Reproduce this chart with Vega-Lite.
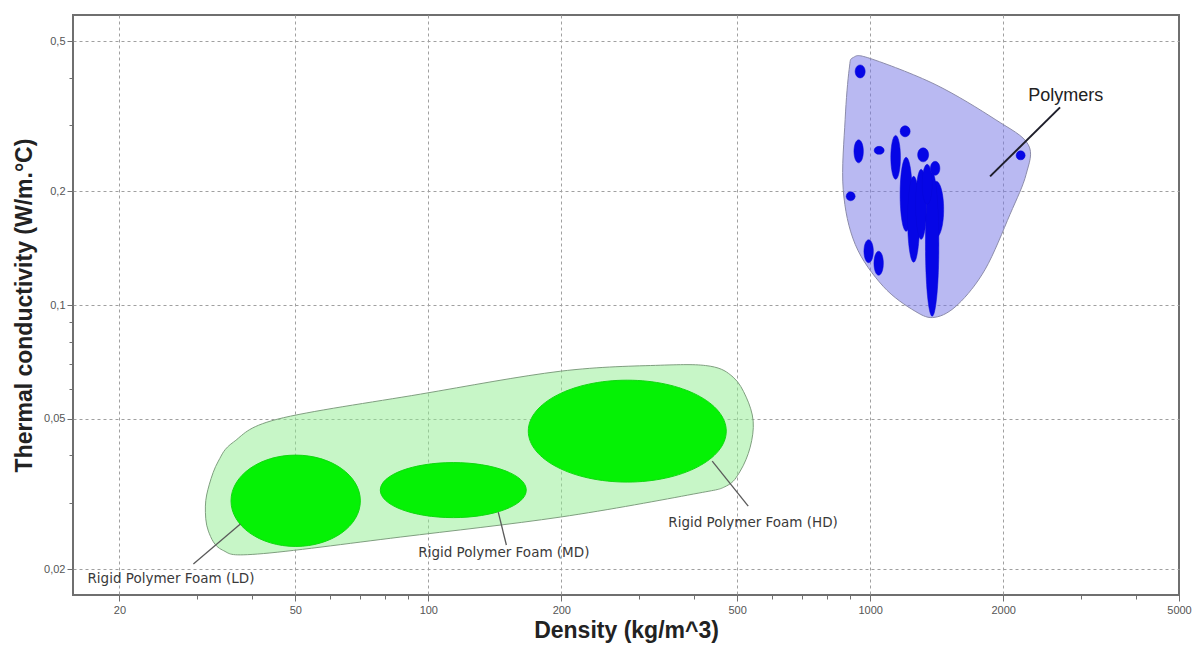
{
  "$schema": "https://vega.github.io/schema/vega-lite/v6.json",
  "width": 1106,
  "height": 580,
  "autosize": {"type": "none"},
  "padding": {"left": 73, "top": 15, "right": 20, "bottom": 51},
  "background": "#ffffff",
  "config": {
    "view": {"stroke": "#6f6f6f", "strokeWidth": 2},
    "axis": {
      "labelFont": "Liberation Sans",
      "titleFont": "Liberation Sans",
      "labelColor": "#555555",
      "labelFontSize": 11,
      "titleFontSize": 23,
      "titleFontWeight": "bold",
      "titleColor": "#222222",
      "gridColor": "#a0a0a0",
      "gridDash": [3, 3],
      "gridWidth": 1,
      "tickColor": "#6f6f6f",
      "domain": false
    }
  },
  "datasets": {
    "shapes": [
      {"id": "env", "kind": "foamEnv", "i": 0, "d": 36.22, "k": 0.04335},
      {"id": "env", "kind": "foamEnv", "i": 1, "d": 45.53, "k": 0.04985},
      {"id": "env", "kind": "foamEnv", "i": 2, "d": 95.92, "k": 0.05808},
      {"id": "env", "kind": "foamEnv", "i": 3, "d": 198.9, "k": 0.06679},
      {"id": "env", "kind": "foamEnv", "i": 4, "d": 334.9, "k": 0.06928},
      {"id": "env", "kind": "foamEnv", "i": 5, "d": 434.5, "k": 0.06887},
      {"id": "env", "kind": "foamEnv", "i": 6, "d": 489.8, "k": 0.0644},
      {"id": "env", "kind": "foamEnv", "i": 7, "d": 524.2, "k": 0.05702},
      {"id": "env", "kind": "foamEnv", "i": 8, "d": 543.6, "k": 0.04925},
      {"id": "env", "kind": "foamEnv", "i": 9, "d": 535.2, "k": 0.04205},
      {"id": "env", "kind": "foamEnv", "i": 10, "d": 508.1, "k": 0.03634},
      {"id": "env", "kind": "foamEnv", "i": 11, "d": 472.4, "k": 0.03316},
      {"id": "env", "kind": "foamEnv", "i": 12, "d": 397.7, "k": 0.03158},
      {"id": "env", "kind": "foamEnv", "i": 13, "d": 198.9, "k": 0.02745},
      {"id": "env", "kind": "foamEnv", "i": 14, "d": 86.42, "k": 0.0243},
      {"id": "env", "kind": "foamEnv", "i": 15, "d": 41.03, "k": 0.02191},
      {"id": "env", "kind": "foamEnv", "i": 16, "d": 34.2, "k": 0.02245},
      {"id": "env", "kind": "foamEnv", "i": 17, "d": 31.79, "k": 0.0252},
      {"id": "env", "kind": "foamEnv", "i": 18, "d": 31.3, "k": 0.02935},
      {"id": "env", "kind": "foamEnv", "i": 19, "d": 31.96, "k": 0.03356},
      {"id": "env", "kind": "foamEnv", "i": 20, "d": 33.49, "k": 0.03862},

      {"id": "LD", "kind": "foam", "i": 0, "d": 70.18, "k": 0.03031},
      {"id": "LD", "kind": "foam", "i": 1, "d": 50.1, "k": 0.02295},
      {"id": "LD", "kind": "foam", "i": 2, "d": 35.77, "k": 0.03031},
      {"id": "LD", "kind": "foam", "i": 3, "d": 50.1, "k": 0.04005},
      {"id": "MD", "kind": "foam", "i": 0, "d": 166.6, "k": 0.03236},
      {"id": "MD", "kind": "foam", "i": 1, "d": 113.9, "k": 0.02736},
      {"id": "MD", "kind": "foam", "i": 2, "d": 77.87, "k": 0.03236},
      {"id": "MD", "kind": "foam", "i": 3, "d": 113.9, "k": 0.03827},
      {"id": "HD", "kind": "foam", "i": 0, "d": 472.4, "k": 0.04637},
      {"id": "HD", "kind": "foam", "i": 1, "d": 281.9, "k": 0.03398},
      {"id": "HD", "kind": "foam", "i": 2, "d": 168.4, "k": 0.04637},
      {"id": "HD", "kind": "foam", "i": 3, "d": 281.9, "k": 0.06324},

      {"id": "penv", "kind": "polyEnv", "i": 0, "d": 915.6, "k": 0.4522},
      {"id": "penv", "kind": "polyEnv", "i": 1, "d": 1000, "k": 0.4496},
      {"id": "penv", "kind": "polyEnv", "i": 2, "d": 1403, "k": 0.3838},
      {"id": "penv", "kind": "polyEnv", "i": 3, "d": 1918, "k": 0.3101},
      {"id": "penv", "kind": "polyEnv", "i": 4, "d": 2278, "k": 0.2662},
      {"id": "penv", "kind": "polyEnv", "i": 5, "d": 2254, "k": 0.2218},
      {"id": "penv", "kind": "polyEnv", "i": 6, "d": 2073, "k": 0.1739},
      {"id": "penv", "kind": "polyEnv", "i": 7, "d": 1821, "k": 0.1243},
      {"id": "penv", "kind": "polyEnv", "i": 8, "d": 1582, "k": 0.1005},
      {"id": "penv", "kind": "polyEnv", "i": 9, "d": 1403, "k": 0.0928},
      {"id": "penv", "kind": "polyEnv", "i": 10, "d": 1264, "k": 0.0963},
      {"id": "penv", "kind": "polyEnv", "i": 11, "d": 1070, "k": 0.1121},
      {"id": "penv", "kind": "polyEnv", "i": 12, "d": 925.0, "k": 0.1448},
      {"id": "penv", "kind": "polyEnv", "i": 13, "d": 868.9, "k": 0.2025},
      {"id": "penv", "kind": "polyEnv", "i": 14, "d": 877.8, "k": 0.3101},
      {"id": "penv", "kind": "polyEnv", "i": 15, "d": 896.4, "k": 0.4205},

      {"id": "b1", "kind": "poly", "i": 0, "d": 974.3, "k": 0.4154},
      {"id": "b1", "kind": "poly", "i": 1, "d": 949.3, "k": 0.3993},
      {"id": "b1", "kind": "poly", "i": 2, "d": 924.8, "k": 0.4154},
      {"id": "b1", "kind": "poly", "i": 3, "d": 949.3, "k": 0.4322},
      {"id": "b2", "kind": "poly", "i": 0, "d": 965.2, "k": 0.2552},
      {"id": "b2", "kind": "poly", "i": 1, "d": 941.8, "k": 0.2379},
      {"id": "b2", "kind": "poly", "i": 2, "d": 919.1, "k": 0.2552},
      {"id": "b2", "kind": "poly", "i": 3, "d": 941.8, "k": 0.2737},
      {"id": "b3", "kind": "poly", "i": 0, "d": 1075.7, "k": 0.2567},
      {"id": "b3", "kind": "poly", "i": 1, "d": 1048.0, "k": 0.2506},
      {"id": "b3", "kind": "poly", "i": 2, "d": 1021.1, "k": 0.2567},
      {"id": "b3", "kind": "poly", "i": 3, "d": 1048.0, "k": 0.2631},
      {"id": "b4", "kind": "poly", "i": 0, "d": 924.8, "k": 0.194},
      {"id": "b4", "kind": "poly", "i": 1, "d": 903.4, "k": 0.1888},
      {"id": "b4", "kind": "poly", "i": 2, "d": 882.5, "k": 0.194},
      {"id": "b4", "kind": "poly", "i": 3, "d": 903.4, "k": 0.1994},
      {"id": "b5", "kind": "poly", "i": 0, "d": 1016.8, "k": 0.1388},
      {"id": "b5", "kind": "poly", "i": 1, "d": 992.2, "k": 0.1294},
      {"id": "b5", "kind": "poly", "i": 2, "d": 968.2, "k": 0.1388},
      {"id": "b5", "kind": "poly", "i": 3, "d": 992.2, "k": 0.1489},
      {"id": "b6", "kind": "poly", "i": 0, "d": 1071.2, "k": 0.129},
      {"id": "b6", "kind": "poly", "i": 1, "d": 1045.3, "k": 0.1199},
      {"id": "b6", "kind": "poly", "i": 2, "d": 1020.0, "k": 0.129},
      {"id": "b6", "kind": "poly", "i": 3, "d": 1045.3, "k": 0.1388},
      {"id": "b7", "kind": "poly", "i": 0, "d": 1231.7, "k": 0.2883},
      {"id": "b7", "kind": "poly", "i": 1, "d": 1200, "k": 0.2788},
      {"id": "b7", "kind": "poly", "i": 2, "d": 1169, "k": 0.2883},
      {"id": "b7", "kind": "poly", "i": 3, "d": 1200, "k": 0.2981},
      {"id": "b8", "kind": "poly", "i": 0, "d": 1356.4, "k": 0.2498},
      {"id": "b8", "kind": "poly", "i": 1, "d": 1318.1, "k": 0.2394},
      {"id": "b8", "kind": "poly", "i": 2, "d": 1280.8, "k": 0.2498},
      {"id": "b8", "kind": "poly", "i": 3, "d": 1318.1, "k": 0.2607},
      {"id": "b9", "kind": "poly", "i": 0, "d": 1438, "k": 0.2301},
      {"id": "b9", "kind": "poly", "i": 1, "d": 1403.2, "k": 0.2205},
      {"id": "b9", "kind": "poly", "i": 2, "d": 1369.2, "k": 0.2301},
      {"id": "b9", "kind": "poly", "i": 3, "d": 1403.2, "k": 0.2401},
      {"id": "b10", "kind": "poly", "i": 0, "d": 2242.8, "k": 0.249},
      {"id": "b10", "kind": "poly", "i": 1, "d": 2190.8, "k": 0.2423},
      {"id": "b10", "kind": "poly", "i": 2, "d": 2140, "k": 0.249},
      {"id": "b10", "kind": "poly", "i": 3, "d": 2190.8, "k": 0.256},
      {"id": "b11", "kind": "poly", "i": 0, "d": 1170.9, "k": 0.246},
      {"id": "b11", "kind": "poly", "i": 1, "d": 1142, "k": 0.2152},
      {"id": "b11", "kind": "poly", "i": 2, "d": 1113.7, "k": 0.246},
      {"id": "b11", "kind": "poly", "i": 3, "d": 1142, "k": 0.2813},
      {"id": "b12", "kind": "poly", "i": 0, "d": 1244.6, "k": 0.1964},
      {"id": "b12", "kind": "poly", "i": 1, "d": 1206.3, "k": 0.1568},
      {"id": "b12", "kind": "poly", "i": 2, "d": 1169, "k": 0.1964},
      {"id": "b12", "kind": "poly", "i": 3, "d": 1206.3, "k": 0.246},
      {"id": "b13", "kind": "poly", "i": 0, "d": 1294.2, "k": 0.1686},
      {"id": "b13", "kind": "poly", "i": 1, "d": 1254.4, "k": 0.1298},
      {"id": "b13", "kind": "poly", "i": 2, "d": 1215.7, "k": 0.1686},
      {"id": "b13", "kind": "poly", "i": 3, "d": 1254.4, "k": 0.2191},
      {"id": "b14", "kind": "poly", "i": 0, "d": 1342.4, "k": 0.1848},
      {"id": "b14", "kind": "poly", "i": 1, "d": 1304.4, "k": 0.1493},
      {"id": "b14", "kind": "poly", "i": 2, "d": 1267.6, "k": 0.1848},
      {"id": "b14", "kind": "poly", "i": 3, "d": 1304.4, "k": 0.2287},
      {"id": "b15", "kind": "poly", "i": 0, "d": 1466.7, "k": 0.1792},
      {"id": "b15", "kind": "poly", "i": 1, "d": 1410.5, "k": 0.1511},
      {"id": "b15", "kind": "poly", "i": 2, "d": 1356.4, "k": 0.1792},
      {"id": "b15", "kind": "poly", "i": 3, "d": 1410.5, "k": 0.2126},
      {"id": "b16", "kind": "poly", "i": 0, "d": 1430.5, "k": 0.1448},
      {"id": "b16", "kind": "poly", "i": 1, "d": 1381.4, "k": 0.0934},
      {"id": "b16", "kind": "poly", "i": 2, "d": 1334.0, "k": 0.1448},
      {"id": "b16", "kind": "poly", "i": 3, "d": 1381.4, "k": 0.2246},
      {"id": "b17", "kind": "poly", "i": 0, "d": 1381.4, "k": 0.2087},
      {"id": "b17", "kind": "poly", "i": 1, "d": 1345.9, "k": 0.1848},
      {"id": "b17", "kind": "poly", "i": 2, "d": 1311.2, "k": 0.2087},
      {"id": "b17", "kind": "poly", "i": 3, "d": 1345.9, "k": 0.2358}
    ],
    "leaders": [
      {"name": "Polymers", "d": 2690, "k": 0.3336, "d2": 1868, "k2": 0.2191},
      {"name": "LD", "d": 37.56, "k": 0.02631, "d2": 29.4, "k2": 0.02062},
      {"name": "MD", "d": 144.0, "k": 0.0283, "d2": 150.2, "k2": 0.02315},
      {"name": "HD", "d": 439.1, "k": 0.03861, "d2": 529.7, "k2": 0.02936}
    ],
    "labels": [
      {"text": "Polymers", "d": 2278, "k": 0.346},
      {"text": "Rigid Polymer Foam (LD)", "d": 16.93, "k": 0.018366},
      {"text": "Rigid Polymer Foam (MD)", "d": 94.93, "k": 0.021517},
      {"text": "Rigid Polymer Foam (HD)", "d": 349.2, "k": 0.02583}
    ]
  },
  "layer": [
    {
      "data": {"name": "shapes"},
      "transform": [{"filter": "datum.kind === 'foamEnv'"}],
      "mark": {"type": "line", "interpolate": "cardinal-closed", "tension": 0, "fill": "#90ee90", "fillOpacity": 0.5, "stroke": "#7f9f7f", "strokeWidth": 1},
      "encoding": {
        "x": {
          "field": "d", "type": "quantitative",
          "scale": {"type": "log", "domain": [15.7, 5000], "nice": false},
          "axis": {
            "title": "Density (kg/m^3)",
            "values": [20, 30, 40, 50, 60, 70, 80, 90, 100, 200, 300, 400, 500, 600, 700, 800, 900, 1000, 2000, 3000, 4000, 5000],
            "format": "d",
            "labelExpr": "indexof([20,50,100,200,500,1000,2000,5000], datum.value) >= 0 ? datum.label : ''",
            "gridOpacity": {"condition": {"test": "indexof([20,50,100,200,500,1000,2000], datum.value) >= 0", "value": 1}, "value": 0},
            "tickSize": {"condition": {"test": "indexof([20,50,100,200,500,1000,2000,5000], datum.value) >= 0", "value": 6}, "value": 4},
            "labelPadding": 3,
            "titlePadding": 4,
            "labelFlush": false
          }
        },
        "y": {
          "field": "k", "type": "quantitative",
          "scale": {"type": "log", "domain": [0.01707, 0.586], "nice": false},
          "axis": {
            "title": "Thermal conductivity (W/m.°C)",
            "values": [0.5, 0.4, 0.3, 0.2, 0.1, 0.09, 0.08, 0.07, 0.06, 0.05, 0.04, 0.03, 0.02],
            "labelExpr": "indexof([0.5,0.2,0.1,0.05,0.02], datum.value) >= 0 ? replace(toString(datum.value), '.', ',') : ''",
            "gridOpacity": {"condition": {"test": "indexof([0.5,0.2,0.1,0.05,0.02], datum.value) >= 0", "value": 1}, "value": 0},
            "tickSize": {"condition": {"test": "indexof([0.5,0.2,0.1,0.05,0.02], datum.value) >= 0", "value": 6}, "value": 4},
            "labelPadding": 2,
            "titlePadding": 7,
            "labelFlush": false
          }
        },
        "order": {"field": "i", "type": "quantitative"},
        "detail": {"field": "id"}
      }
    },
    {
      "data": {"name": "shapes"},
      "transform": [{"filter": "datum.kind === 'foam'"}],
      "mark": {"type": "line", "interpolate": "cardinal-closed", "tension": -0.657, "fill": "#05f205", "stroke": "#10d810", "strokeWidth": 1},
      "encoding": {
        "x": {"field": "d", "type": "quantitative"},
        "y": {"field": "k", "type": "quantitative"},
        "order": {"field": "i", "type": "quantitative"},
        "detail": {"field": "id"}
      }
    },
    {
      "data": {"name": "shapes"},
      "transform": [{"filter": "datum.kind === 'polyEnv'"}],
      "mark": {"type": "line", "interpolate": "cardinal-closed", "tension": 0, "fill": "#7373e6", "fillOpacity": 0.5, "stroke": "#8c8caa", "strokeWidth": 1},
      "encoding": {
        "x": {"field": "d", "type": "quantitative"},
        "y": {"field": "k", "type": "quantitative"},
        "order": {"field": "i", "type": "quantitative"},
        "detail": {"field": "id"}
      }
    },
    {
      "data": {"name": "shapes"},
      "transform": [{"filter": "datum.kind === 'poly'"}],
      "mark": {"type": "line", "interpolate": "cardinal-closed", "tension": -0.657, "fill": "#0606e6", "stroke": "#0606d8", "strokeWidth": 0.5},
      "encoding": {
        "x": {"field": "d", "type": "quantitative"},
        "y": {"field": "k", "type": "quantitative"},
        "order": {"field": "i", "type": "quantitative"},
        "detail": {"field": "id"}
      }
    },
    {
      "data": {"name": "leaders"},
      "transform": [{"filter": "datum.name !== 'Polymers'"}],
      "mark": {"type": "rule", "color": "#5a5a5a", "strokeWidth": 1.3},
      "encoding": {
        "x": {"field": "d", "type": "quantitative"},
        "y": {"field": "k", "type": "quantitative"},
        "x2": {"field": "d2"},
        "y2": {"field": "k2"}
      }
    },
    {
      "data": {"name": "leaders"},
      "transform": [{"filter": "datum.name === 'Polymers'"}],
      "mark": {"type": "rule", "color": "#1e1e2a", "strokeWidth": 2},
      "encoding": {
        "x": {"field": "d", "type": "quantitative"},
        "y": {"field": "k", "type": "quantitative"},
        "x2": {"field": "d2"},
        "y2": {"field": "k2"}
      }
    },
    {
      "data": {"name": "labels"},
      "transform": [{"filter": "datum.text !== 'Polymers'"}],
      "mark": {"type": "text", "align": "left", "baseline": "alphabetic", "font": "DejaVu Sans", "fontSize": 13.5, "color": "#3a3a3a"},
      "encoding": {
        "x": {"field": "d", "type": "quantitative"},
        "y": {"field": "k", "type": "quantitative"},
        "text": {"field": "text"}
      }
    },
    {
      "data": {"name": "labels"},
      "transform": [{"filter": "datum.text === 'Polymers'"}],
      "mark": {"type": "text", "align": "left", "baseline": "alphabetic", "font": "Liberation Sans", "fontSize": 18, "color": "#222222"},
      "encoding": {
        "x": {"field": "d", "type": "quantitative"},
        "y": {"field": "k", "type": "quantitative"},
        "text": {"field": "text"}
      }
    }
  ]
}
